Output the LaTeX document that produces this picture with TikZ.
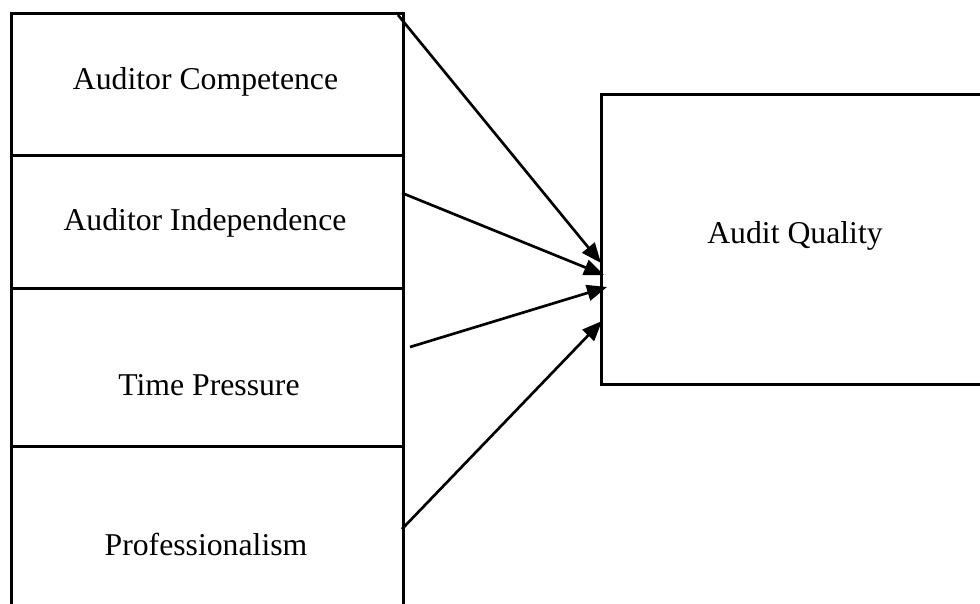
\documentclass[tikz,border=0pt]{standalone}
\usepackage{fontspec}
\setmainfont{Liberation Serif}
\usetikzlibrary{arrows.meta}
\begin{document}
\begin{tikzpicture}[x=0.75pt,y=-0.75pt,
  boxstyle/.style={draw=black,line width=2pt,rectangle,inner sep=0pt,anchor=north west},
  txt/.style={font=\fontsize{23.8}{28}\selectfont,anchor=base,inner sep=0pt},
  arr/.style={line width=2pt,-{Triangle[length=15pt,width=12pt]}}]
\useasboundingbox (0,0) rectangle (980,603);
% left boxes
\node[boxstyle,minimum width=294pt,minimum height=106.5pt] (c) at (10,12) {};
\node[boxstyle,minimum width=294pt,minimum height=99.75pt] (i) at (10,154) {};
\node[boxstyle,minimum width=294pt,minimum height=118.5pt] (t) at (10,287) {};
\node[boxstyle,minimum width=294pt,minimum height=135pt] (p) at (10,445) {};
% right box
\node[boxstyle,minimum width=300pt,minimum height=217.5pt] (q) at (600,93) {};
% texts
\node[txt] (tc) at (205.5,89) {Auditor Competence};
\node[txt] (ti) at (205,230) {Auditor Independence};
\node[txt] (tt) at (209,395) {Time Pressure};
\node[txt] (tp) at (206,555) {Professionalism};
\node[txt] (tq) at (795,243) {Audit Quality};
% arrow endpoints
\coordinate (s1) at (398,15);
\coordinate (s2) at (402,193);
\coordinate (s3) at (410,347);
\coordinate (s4) at (402,529);
\coordinate (e1) at (601,263);
\coordinate (e2) at (604,275);
\coordinate (e3) at (607,287);
\coordinate (e4) at (602,321);
\draw[arr] (s1) -- (e1);
\draw[arr] (s2) -- (e2);
\draw[arr] (s3) -- (e3);
\draw[arr] (s4) -- (e4);
\end{tikzpicture}
\end{document}
